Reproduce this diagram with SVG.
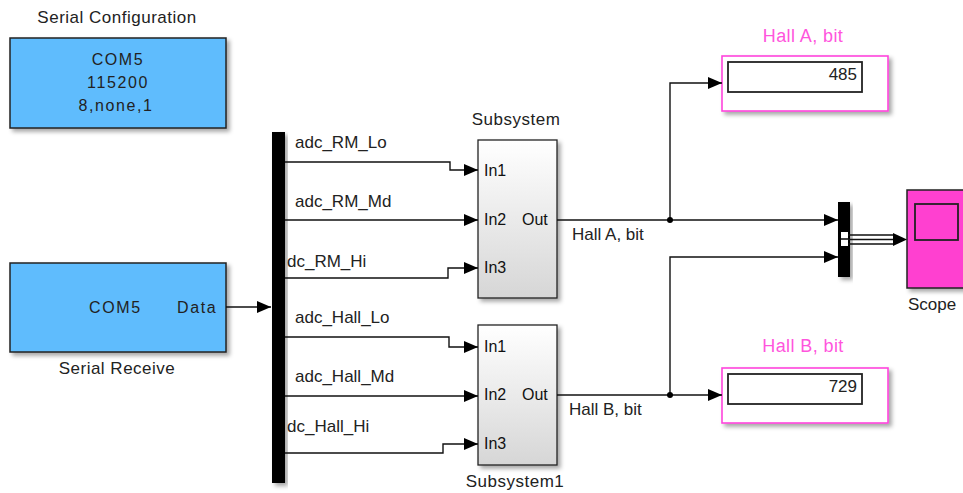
<svg xmlns="http://www.w3.org/2000/svg" width="963" height="493" viewBox="0 0 963 493">
<defs>
<style>
text{font-family:"Liberation Sans",Arial,sans-serif;fill:#222}
.lbl{font-size:17px}
.ttl{font-size:17px;letter-spacing:0.5px}
.blk{font-size:16px;letter-spacing:1.6px}
.port{font-size:16px;fill:#111}
.pink{font-size:18px;fill:#ff55dd;letter-spacing:0.4px}
.wire{fill:none;stroke:#111;stroke-width:1.4}
.blue{fill:#5fbcfd;stroke:#222;stroke-width:1.5}
.sub{fill:url(#g);stroke:#222;stroke-width:1.3}
.disp{fill:#fff;stroke:#ff44dd;stroke-width:1.6}
.dbox{fill:#fff;stroke:#222;stroke-width:1.8}
</style>
<linearGradient id="g" x1="0" y1="0" x2="0" y2="1">
<stop offset="0" stop-color="#ffffff"/><stop offset="1" stop-color="#d6d6d6"/>
</linearGradient>
<filter id="sh" x="-10%" y="-10%" width="130%" height="130%">
<feDropShadow dx="3" dy="3" stdDeviation="2" flood-color="#000" flood-opacity="0.35"/>
</filter>
<marker id="ar" markerUnits="userSpaceOnUse" markerWidth="14" markerHeight="12" refX="14" refY="6" orient="auto">
<path d="M0,0 L14,6 L0,12 Z" fill="#000"/>
</marker>
</defs>
<rect width="963" height="493" fill="#fff"/>

<g id="serial-config">
<text x="117" y="23" text-anchor="middle" class="ttl">Serial Configuration</text>
<rect x="10" y="38" width="216" height="90" class="blue" filter="url(#sh)"/>
<text x="118" y="65" text-anchor="middle" class="blk">COM5</text>
<text x="118" y="88" text-anchor="middle" class="blk">115200</text>
<text x="116" y="111" text-anchor="middle" class="blk">8,none,1</text>
</g>

<g id="serial-receive">
<rect x="10" y="263" width="216" height="89" class="blue" filter="url(#sh)"/>
<text x="89" y="313" class="blk">COM5</text>
<text x="177" y="313" class="blk">Data</text>
<text x="117" y="374" text-anchor="middle" class="ttl">Serial Receive</text>
</g>

<g id="bus">
<rect x="272" y="132" width="13" height="351" fill="#000" filter="url(#sh)"/>
</g>

<g id="subsystem">
<text x="516" y="125" text-anchor="middle" class="ttl">Subsystem</text>
<rect x="478" y="140" width="79" height="158" class="sub" filter="url(#sh)"/>
<text x="484" y="176" class="port">In1</text>
<text x="484" y="225" class="port">In2</text>
<text x="484" y="273" class="port">In3</text>
<text x="522" y="225" class="port">Out</text>
</g>

<g id="subsystem1">
<rect x="478" y="325" width="79" height="140" class="sub" filter="url(#sh)"/>
<text x="484" y="352" class="port">In1</text>
<text x="484" y="400" class="port">In2</text>
<text x="484" y="449" class="port">In3</text>
<text x="522" y="400" class="port">Out</text>
<text x="515" y="487" text-anchor="middle" class="ttl">Subsystem1</text>
</g>

<g id="display-a">
<text x="803" y="42" text-anchor="middle" class="pink">Hall A, bit</text>
<rect x="722" y="56" width="166" height="55" class="disp" filter="url(#sh)"/>
<rect x="728" y="62" width="134" height="30" class="dbox"/>
<text x="857" y="80" text-anchor="end" class="lbl">485</text>
</g>

<g id="display-b">
<text x="803" y="352" text-anchor="middle" class="pink">Hall B, bit</text>
<rect x="722" y="368" width="166" height="55" class="disp" filter="url(#sh)"/>
<rect x="728" y="374" width="134" height="30" class="dbox"/>
<text x="857" y="392" text-anchor="end" class="lbl">729</text>
</g>

<g id="mux">
<rect x="838" y="202" width="12" height="75" fill="#000" filter="url(#sh)"/>
<rect x="841" y="232" width="7" height="14" fill="#fff"/>
<line x1="841" y1="239" x2="848" y2="239" stroke="#000" stroke-width="1.5"/>
</g>

<g id="scope">
<rect x="907" y="190" width="70" height="98" fill="#ff40d0" stroke="#222" stroke-width="1.5" filter="url(#sh)"/>
<rect x="915" y="204" width="43" height="36" fill="#ff40d0" stroke="#222" stroke-width="1.8"/>
<text x="908" y="310" class="lbl">Scope</text>
</g>

<g id="connectors">
<path class="wire" d="M226,307 H271" marker-end="url(#ar)"/>
<path class="wire" d="M285,162 H450 V170 H478" marker-end="url(#ar)"/>
<path class="wire" d="M285,220 H478" marker-end="url(#ar)"/>
<path class="wire" d="M285,278 H448 V268 H478" marker-end="url(#ar)"/>
<path class="wire" d="M285,337 H449 V347 H478" marker-end="url(#ar)"/>
<path class="wire" d="M285,396 H478" marker-end="url(#ar)"/>
<path class="wire" d="M285,453 H443 V444 H478" marker-end="url(#ar)"/>
<path class="wire" d="M557,220 H838" marker-end="url(#ar)"/>
<path class="wire" d="M670,220 V83 H722" marker-end="url(#ar)"/>
<path class="wire" d="M557,395 H722" marker-end="url(#ar)"/>
<path class="wire" d="M670,395 V257 H838" marker-end="url(#ar)"/>
<circle cx="670" cy="220" r="3" fill="#000"/>
<circle cx="670" cy="395" r="3" fill="#000"/>
<path class="wire" d="M848,235 H895 M848,239.5 H895 M848,244 H895"/>
<path d="M893,233 L907,239.5 L893,246 Z" fill="#000"/>
<text x="295" y="148" class="lbl">adc_RM_Lo</text>
<text x="295" y="207" class="lbl">adc_RM_Md</text>
<text x="287" y="267" class="lbl">dc_RM_Hi</text>
<text x="295" y="323" class="lbl">adc_Hall_Lo</text>
<text x="295" y="382" class="lbl">adc_Hall_Md</text>
<text x="287" y="432" class="lbl">dc_Hall_Hi</text>
<text x="572" y="240" class="lbl">Hall A, bit</text>
<text x="569" y="415" class="lbl">Hall B, bit</text>
</g>
</svg>
